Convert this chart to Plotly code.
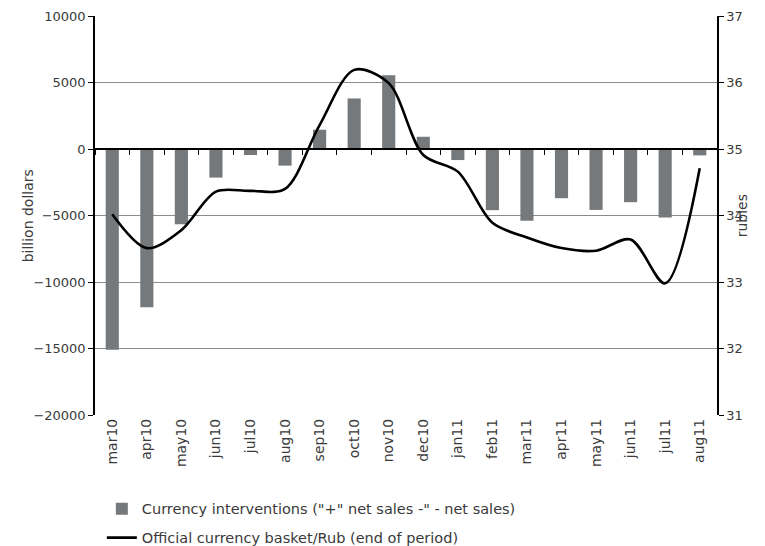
import plotly.graph_objects as go

months = ["mar10", "apr10", "may10", "jun10", "jul10", "aug10", "sep10", "oct10", "nov10",
          "dec10", "jan11", "feb11", "mar11", "apr11", "may11", "jun11", "jul11", "aug11"]

# interventions, left axis
interventions = [-15100, -11900, -5650, -2150, -450, -1250, 1450, 3800, 5550,
                 920, -830, -4600, -5400, -3700, -4580, -4000, -5150, -480]

# basket / rub, right axis
basket = [34.02, 33.51, 33.78, 34.36, 34.37, 34.40, 35.36, 36.19, 35.99,
          34.91, 34.66, 33.89, 33.67, 33.51, 33.47, 33.64, 32.98, 34.71]

font_name = "DejaVu Sans"
txt = "#3a3a3a"

fig = go.Figure()

fig.add_trace(go.Bar(
    x=months, y=interventions,
    name='Currency interventions ("+" net sales -" - net sales)',
    marker=dict(color="#76797b", line=dict(width=0)),
    width=0.38,
    legendgroup="a",
))

fig.add_trace(go.Scatter(
    x=months, y=basket,
    name="Official currency basket/Rub (end of period)",
    mode="lines",
    line=dict(color="black", width=2.6, shape="spline", smoothing=0.9),
    xaxis="x2", yaxis="y2",
    legendgroup="b",
))

# page body has an 8px margin, so the figure is a bit smaller than the window
fig.update_layout(
    width=757, height=538,
    margin=dict(l=87, r=48, t=8, b=131, autoexpand=False),
    paper_bgcolor="white", plot_bgcolor="white",
    font=dict(family=font_name, size=13, color=txt),
    xaxis=dict(
        type="category", range=[-0.5, 17.5], automargin=False,
        showline=False, showgrid=False, zeroline=False,
        ticks="", tickangle=-90, tickfont=dict(size=14, color=txt),
    ),
    # axis line that crosses at zero, with the tick marks between months
    xaxis2=dict(
        type="category", range=[-0.5, 17.5], overlaying="x", automargin=False,
        anchor="free", position=2 / 3,
        showline=True, linecolor="black", linewidth=1.5,
        ticks="outside", tickson="boundaries", ticklen=5, tickcolor="black",
        showticklabels=False, showgrid=False, zeroline=False,
    ),
    yaxis=dict(
        range=[-20000, 10000], dtick=5000, tickformat="d", automargin=False,
        showline=True, linecolor="black", linewidth=1.5,
        ticks="outside", ticklen=5, tickcolor="black",
        showgrid=True, gridcolor="#8c8c8c", gridwidth=1,
        zeroline=False, tickfont=dict(size=13, color=txt),
    ),
    yaxis2=dict(
        range=[31, 37], dtick=1, overlaying="y", side="right", anchor="x",
        automargin=False,
        showline=True, linecolor="black", linewidth=1.5,
        ticks="outside", ticklen=5, tickcolor="black",
        showgrid=False, zeroline=False, tickfont=dict(size=13, color=txt),
    ),
    annotations=[
        dict(text="billion dollars", textangle=-90, xref="paper", yref="paper",
             x=-0.124, y=0.5, showarrow=False, font=dict(size=14, color=txt)),
        dict(text="rubles", textangle=-90, xref="paper", yref="paper",
             x=1.056, y=0.5, showarrow=False, font=dict(size=14, color=txt)),
    ],
    showlegend=True,
    legend=dict(
        orientation="v", x=0.011, xanchor="left", y=-0.195, yanchor="top",
        font=dict(size=14.5, color=txt), tracegroupgap=7,
        bgcolor="rgba(0,0,0,0)",
    ),
)

fig.write_html("out.html")
